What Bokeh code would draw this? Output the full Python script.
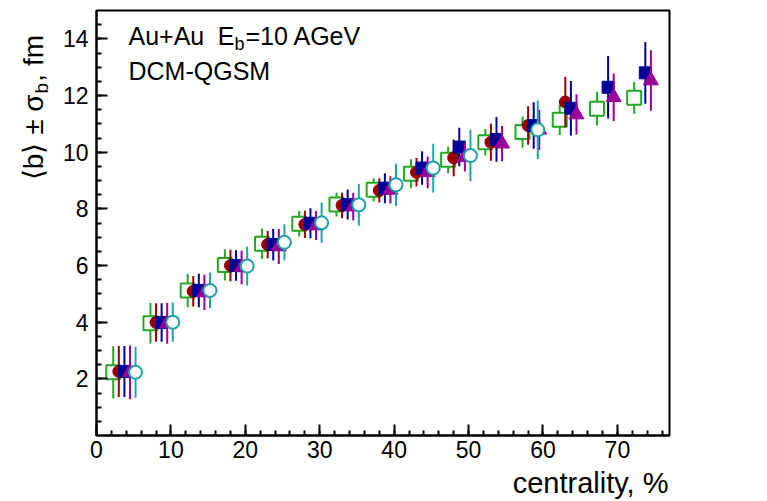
import numpy as np
from math import pi
from bokeh.plotting import figure
from bokeh.layouts import column, row
from bokeh.models import Range1d, FixedTicker, Label, ColumnDataSource
from bokeh.core.properties import value
from bokeh.embed import file_html
from bokeh.resources import INLINE

# ---------------- data ----------------
green_x = [2.25, 7.25, 12.25, 17.25, 22.25, 27.25, 32.25, 37.25, 42.25, 47.25, 52.25, 57.25, 62.25, 67.25, 72.25]
green_y = [2.23, 3.96, 5.12, 6.02, 6.77, 7.47, 8.15, 8.67, 9.24, 9.73, 10.35, 10.71, 11.14, 11.53, 11.92]
green_e = [0.92, 0.72, 0.59, 0.55, 0.54, 0.45, 0.42, 0.41, 0.51, 0.47, 0.47, 0.55, 0.53, 0.59, 0.56]

red_x = [3.0, 8.0, 13.0, 18.0, 23.0, 28.0, 33.0, 38.0, 43.0, 48.0, 53.0, 58.0, 63.0]
red_y = [2.26, 3.99, 5.09, 6.00, 6.74, 7.45, 8.12, 8.65, 9.29, 9.80, 10.35, 10.94, 11.77]
red_e = [0.90, 0.68, 0.54, 0.56, 0.48, 0.48, 0.45, 0.43, 0.50, 0.65, 0.65, 0.68, 0.89]

blue_x = [3.75, 8.75, 13.75, 18.75, 23.75, 28.75, 33.75, 38.75, 43.75, 48.75, 53.75, 58.75, 63.75, 68.75, 73.75]
blue_y = [2.26, 3.99, 5.12, 6.00, 6.74, 7.49, 8.15, 8.73, 9.44, 10.18, 10.45, 10.94, 11.55, 12.29, 12.80]
blue_e = [0.90, 0.68, 0.59, 0.54, 0.56, 0.53, 0.53, 0.53, 0.59, 0.68, 0.79, 0.82, 0.96, 1.10, 1.09]

purple_x = [4.5, 9.5, 14.5, 19.5, 24.5, 29.5, 34.5, 39.5, 44.5, 49.5, 54.5, 59.5, 64.5, 69.5, 74.5]
purple_y = [2.23, 3.96, 5.05, 5.93, 6.67, 7.41, 8.08, 8.67, 9.29, 9.82, 10.30, 10.79, 11.33, 11.94, 12.53]
purple_e = [0.95, 0.72, 0.62, 0.59, 0.62, 0.51, 0.49, 0.48, 0.56, 0.50, 0.62, 0.71, 0.71, 0.84, 1.07]

teal_x = [5.25, 10.25, 15.25, 20.25, 25.25, 30.25, 35.25, 40.25, 45.25, 50.25, 59.3]
teal_y = [2.23, 4.00, 5.12, 5.98, 6.82, 7.51, 8.14, 8.85, 9.44, 9.88, 10.79]
teal_e = [0.90, 0.69, 0.63, 0.69, 0.64, 0.71, 0.74, 0.75, 0.86, 0.91, 1.03]

x_ticks = [0, 10, 20, 30, 40, 50, 60, 70]
x_minor = list(range(0, 78, 2))
y_ticks = [2, 4, 6, 8, 10, 12, 14]
y_minor = [0.5 * i for i in range(1, 30)]

FONT = "Liberation Sans"

# ---------------- main plot ----------------
p = figure(width=711, height=466, output_backend="svg", toolbar_location=None,
           x_range=Range1d(0, 77), y_range=Range1d(0, 15),
           min_border_left=40, min_border_right=98, min_border_top=10, min_border_bottom=31)
p.xgrid.visible = False
p.ygrid.visible = False
p.outline_line_color = "black"
p.outline_line_width = 2
p.background_fill_color = "white"
p.border_fill_color = "white"

for ax, tk, mn, so in ((p.xaxis[0], x_ticks, x_minor, 5), (p.yaxis[0], y_ticks, y_minor, 8)):
    ax.ticker = FixedTicker(ticks=tk, minor_ticks=mn)
    ax.major_tick_in = 11
    ax.major_tick_out = 0
    ax.minor_tick_in = 5
    ax.minor_tick_out = 0
    ax.axis_line_width = 2
    ax.major_tick_line_width = 2
    ax.minor_tick_line_width = 2
    ax.major_label_text_font = FONT
    ax.major_label_text_font_size = "23px"
    ax.major_label_text_color = "black"
    ax.major_label_standoff = so

series = [
    (green_x, green_y, green_e, "#22a822", "square", 14, "white", 2),
    (red_x, red_y, red_e, "#990000", "circle", 12, "#990000", 1),
    (blue_x, blue_y, blue_e, "#000099", "square", 12, "#000099", 1),
    (purple_x, purple_y, purple_e, "#990099", "triangle", 15, "#990099", 1),
    (teal_x, teal_y, teal_e, "#1fa3a3", "circle", 13, "white", 2),
]
for xs, ys, es, col, mk, sz, fill, lw in series:
    ya = np.array(ys)
    ea = np.array(es)
    src = ColumnDataSource(dict(x=xs, y=ys, lo=ya - ea, hi=ya + ea))
    p.segment(x0="x", y0="lo", x1="x", y1="hi", source=src, line_color=col, line_width=2)
    p.scatter(x="x", y="y", source=src, marker=mk, size=sz, line_color=col,
              fill_color=fill, line_width=lw)

def lab(text, x, y, size, align="left"):
    p.add_layout(Label(x=x, y=y, x_units="screen", y_units="screen", text=text,
                       text_font=FONT, text_font_size=size, text_color="black",
                       text_align=align, text_baseline="alphabetic"))

lab("Au+Au", 32, 400, "25px")
lab("E", 138, 400, "25px", align="right")
lab("b", 138, 392, "18px")
lab("=10 AGeV", 149, 400, "25px")
lab("DCM-QGSM", 32, 365, "25px")

# ---------------- y title strip (left) ----------------
def strip(w, h):
    f = figure(width=w, height=h, output_backend="svg", toolbar_location=None,
               x_range=Range1d(0, w), y_range=Range1d(0, h),
               x_axis_type=None, y_axis_type=None, min_border=0)
    f.outline_line_color = None
    f.xgrid.visible = False
    f.ygrid.visible = False
    f.background_fill_color = "white"
    f.border_fill_color = "white"
    return f

pl = strip(56, 466)
pl.text(x=[33], y=[374], text=["\u27e8b\u27e9 \u00b1 \u03c3"], angle=pi / 2,
        text_font=value(FONT), text_font_size="28px", text_color="black",
        text_align="right", text_baseline="alphabetic")
pl.text(x=[41], y=[375], text=["b"], angle=pi / 2,
        text_font=value(FONT), text_font_size="19px", text_color="black",
        text_align="left", text_baseline="alphabetic")
pl.text(x=[33], y=[388], text=[", fm"], angle=pi / 2,
        text_font=value(FONT), text_font_size="28px", text_color="black",
        text_align="left", text_baseline="alphabetic")

# ---------------- x title strip (bottom) ----------------
pb = strip(767, 35)
pb.text(x=[668], y=[19], text=["centrality, %"],
        text_font=value(FONT), text_font_size="29px", text_color="black",
        text_align="right", text_baseline="alphabetic")

layout = column(row(pl, p), pb)
open("out.html", "w").write(file_html(layout, INLINE))
